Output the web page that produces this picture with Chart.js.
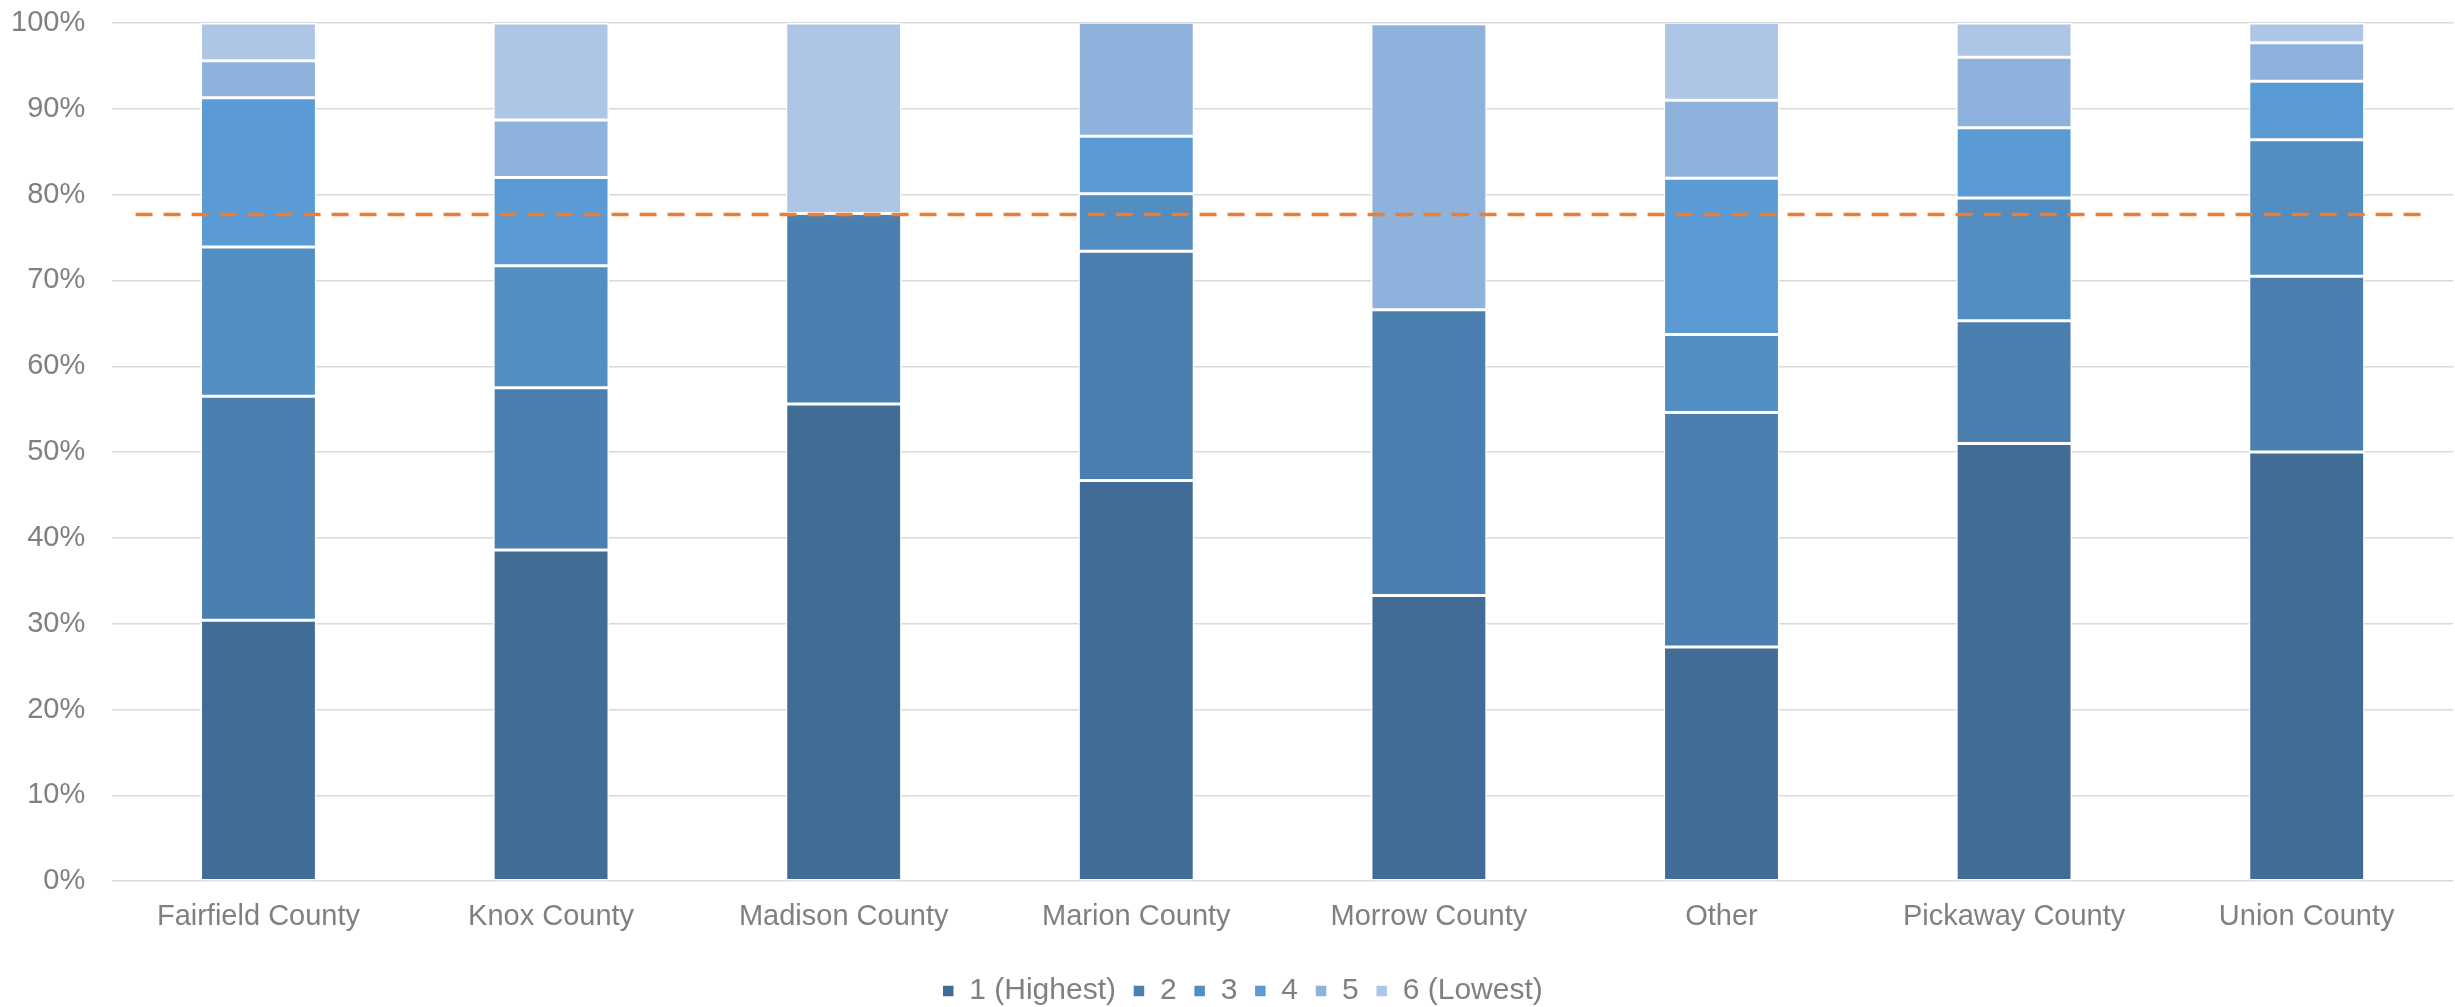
<!DOCTYPE html>
<html>
<head>
<meta charset="utf-8">
<script src="https://cdn.jsdelivr.net/npm/chart.js@4/dist/chart.umd.min.js"></script>
<style>
  html, body { margin: 0; padding: 0; background: #ffffff; }
  #wrap { width: 2455px; height: 1007px; position: relative; }
</style>
</head>
<body>
<div id="wrap"><canvas id="c" width="2455" height="1007"></canvas></div>
<script>
const categories = ["Fairfield County", "Knox County", "Madison County", "Marion County", "Morrow County", "Other", "Pickaway County", "Union County"];
const seriesNames = ["1 (Highest)", "2", "3", "4", "5", "6 (Lowest)"];
const s1 = [30.4, 38.6, 55.6, 46.7, 33.3, 27.3, 51.0, 50.0];
const s2 = [26.1, 18.9, 22.2, 26.7, 33.3, 27.3, 14.3, 20.5];
const s3 = [17.4, 14.2, 0, 6.7, 0, 9.1, 14.3, 15.9];
const s4 = [17.4, 10.3, 0, 6.7, 0, 18.2, 8.2, 6.8];
const s5 = [4.3, 6.7, 0, 13.3, 33.3, 9.1, 8.2, 4.5];
const s6 = [4.4, 11.3, 22.2, 0, 0, 9.1, 4.0, 2.3];
const yTicks = [0, 10, 20, 30, 40, 50, 60, 70, 80, 90, 100];
const refValue = 77.7;
const refSpan = [-0.42, 7.42];

const seriesValues = [s1, s2, s3, s4, s5, s6];
const colors = ["#406C96", "#4B7FAF", "#528EC2", "#5B9BD5", "#8EB2DC", "#AEC6E5"];
const fontFamily = "'Liberation Sans', Arial, sans-serif";
const textColor = "#808080";

const datasets = seriesValues.map((vals, i) => ({
  type: 'bar',
  label: seriesNames[i],
  data: vals,
  backgroundColor: colors[i],
  borderColor: '#ffffff',
  borderWidth: 1.5,
  borderSkipped: false,
  grouped: false,
  categoryPercentage: 1.0,
  barPercentage: 0.396,
  xAxisID: 'x',
  yAxisID: 'y',
  order: 2
}));

datasets.push({
  type: 'line',
  label: 'ref',
  data: refSpan.map(x => ({ x: x, y: refValue })),
  borderColor: '#ED7D31',
  borderWidth: 3.5,
  borderDash: [17, 11],
  pointRadius: 0,
  fill: false,
  xAxisID: 'xLine',
  yAxisID: 'y',
  stack: 'ref',
  order: 0
});

const legendShift = {
  id: 'legendShift',
  afterLayout(chart) {
    if (chart.legend) { chart.legend.left += 11; chart.legend.right += 11; }
  }
};

new Chart(document.getElementById('c'), {
  data: { labels: categories, datasets: datasets },
  plugins: [legendShift],
  options: {
    responsive: false,
    animation: false,
    devicePixelRatio: 1,
    layout: { padding: { left: 10, right: 2, top: 8, bottom: -9 } },
    plugins: {
      legend: {
        position: 'bottom',
        labels: {
          filter: item => item.text !== 'ref',
          boxWidth: 12,
          boxHeight: 12,
          padding: 17,
          color: textColor,
          font: { family: fontFamily, size: 30 }
        }
      },
      tooltip: { enabled: false }
    },
    scales: {
      x: {
        type: 'category',
        stacked: true,
        offset: true,
        grid: { display: false, drawTicks: false, offset: true },
        border: { display: false },
        ticks: { color: textColor, padding: 18, font: { family: fontFamily, size: 29 } },
        afterFit: s => { s.height += 7; }
      },
      xLine: {
        type: 'linear',
        display: false,
        offset: false,
        bounds: 'ticks',
        min: -0.5,
        max: 7.5
      },
      y: {
        type: 'linear',
        stacked: true,
        min: 0,
        max: 100,
        afterBuildTicks: axis => { axis.ticks = yTicks.map(v => ({ value: v })); },
        afterFit: s => { s.width -= 26; s.paddingTop = 23; },
        grid: { color: '#D9D9D9', lineWidth: 1.5, drawTicks: false },
        border: { display: false },
        ticks: {
          color: textColor,
          padding: 27,
          font: { family: fontFamily, size: 29 },
          callback: v => v + '%'
        }
      }
    }
  }
});
</script>
</body>
</html>
